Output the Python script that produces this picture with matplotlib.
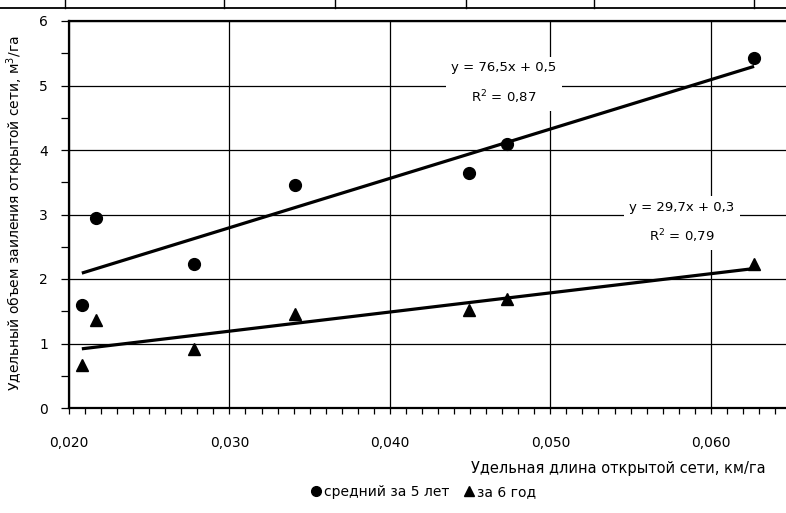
import matplotlib
matplotlib.use("Agg")
import matplotlib.pyplot as plt
import numpy as np
from matplotlib.lines import Line2D
from matplotlib.ticker import MultipleLocator, FuncFormatter

# ---- data ----
x_avg = [0.0208, 0.0217, 0.0278, 0.0341, 0.0449, 0.0473, 0.0627]
y_avg = [1.59, 2.95, 2.23, 3.46, 3.65, 4.10, 5.43]
x_y6 = [0.0208, 0.0217, 0.0278, 0.0341, 0.0449, 0.0473, 0.0627]
y_y6 = [0.66, 1.37, 0.92, 1.45, 1.52, 1.69, 2.23]
fit_slope = [76.5, 29.7]
fit_intercept = [0.5, 0.3]
eq_labels = ["y = 76,5x + 0,5\nR$^2$ = 0,87", "y = 29,7x + 0,3\nR$^2$ = 0,79"]
series_names = ["средний за 5 лет", "за 6 год"]
xlabel = "Удельная длина открытой сети, км/га"
ylabel = "Удельный объем заиления открытой сети, м$^3$/га"

plt.rcParams['font.family'] = ['DejaVu Sans']
plt.rcParams['mathtext.fontset'] = 'dejavusans'

W, H = 786, 513
fig = plt.figure(figsize=(W / 100, H / 100), dpi=100)
fig.patch.set_facecolor('white')

# fragment of a table above the chart
fig.add_artist(Line2D([0, 1], [1 - 8 / H, 1 - 8 / H], transform=fig.transFigure,
                      color='black', lw=1.3))
for px in [65, 224, 335, 466, 594, 754]:
    fig.add_artist(Line2D([px / W, px / W], [1 - 8 / H, 1], transform=fig.transFigure,
                          color='black', lw=1.0))

ax = fig.add_axes([69 / W, 1 - 408 / H, (791 - 69) / W, (408 - 21) / H])
ax.set_xlim(0.020, 0.065)
ax.set_ylim(0, 6)

ax.xaxis.set_major_locator(MultipleLocator(0.01))
ax.xaxis.set_minor_locator(MultipleLocator(0.001))
ax.yaxis.set_major_locator(MultipleLocator(1))
ax.yaxis.set_minor_locator(MultipleLocator(0.5))
ax.xaxis.set_major_formatter(FuncFormatter(lambda v, p: f"{v:.3f}".replace('.', ',')))
ax.yaxis.set_major_formatter(FuncFormatter(lambda v, p: f"{v:.0f}"))

ax.grid(True, which='major', color='black', lw=0.9)
ax.set_axisbelow(True)

for s in ['left', 'bottom', 'top']:
    ax.spines[s].set_linewidth(1.6)
    ax.spines[s].set_color('black')
ax.spines['right'].set_visible(False)

ax.tick_params(axis='x', which='both', direction='out', length=4, width=0.9,
               labelsize=10, pad=16)
ax.tick_params(axis='y', which='both', direction='out', length=6, width=0.9,
               labelsize=10, pad=9)

# scatter points
ax.plot(x_avg, y_avg, 'o', color='black', markersize=8.5, zorder=4, clip_on=False)
ax.plot(x_y6, y_y6, '^', color='black', markersize=8, zorder=4, clip_on=False)

# trend lines
for xs, k, b in [(x_avg, fit_slope[0], fit_intercept[0]),
                 (x_y6, fit_slope[1], fit_intercept[1])]:
    xx = np.array([min(xs), max(xs)])
    ax.plot(xx, k * xx + b, color='black', lw=2.3, zorder=3, solid_capstyle='butt')

# equation labels
ax.text(0.0471, 5.03, eq_labels[0], ha='center', va='center', multialignment='center',
        fontsize=9.5, linespacing=2.0, zorder=5,
        bbox=dict(boxstyle='square,pad=0.4', fc='white', ec='none'))
ax.text(0.0582, 2.87, eq_labels[1], ha='center', va='center', multialignment='center',
        fontsize=9.5, linespacing=2.0, zorder=5,
        bbox=dict(boxstyle='square,pad=0.4', fc='white', ec='none'))

# axis labels
fig.text(766 / W, 1 - 468 / H, xlabel, ha='right', va='center', fontsize=10.5)
fig.text(15 / W, 1 - 213 / H, ylabel, rotation=90, ha='center', va='center',
         rotation_mode='anchor', fontsize=10)

# legend
handles = [Line2D([], [], marker='o', ls='none', color='black', markersize=7),
           Line2D([], [], marker='^', ls='none', color='black', markersize=7)]
fig.legend(handles, series_names, loc='center', bbox_to_anchor=(424 / W, 1 - 492 / H),
           ncol=2, frameon=False, fontsize=10, handlelength=0.6, handletextpad=0.3,
           columnspacing=1.1)

fig.savefig('out.png', dpi=100, facecolor='white')
